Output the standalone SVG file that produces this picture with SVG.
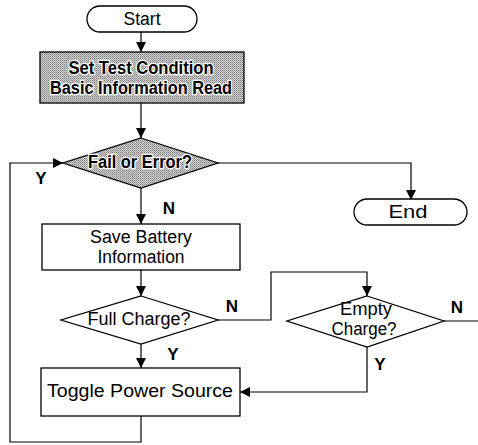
<svg xmlns="http://www.w3.org/2000/svg" width="478" height="445" viewBox="0 0 478 445">
<defs>
<marker id="ah" viewBox="0 0 10 10" refX="10" refY="5" markerWidth="10" markerHeight="10" markerUnits="userSpaceOnUse" orient="auto">
<path d="M0,0 L10,5 L0,10 Z" fill="#000"/>
</marker>
<pattern id="dith" width="2" height="2" patternUnits="userSpaceOnUse">
<rect width="2" height="2" fill="#d0d0d0"/>
<rect width="1" height="1" fill="#808080"/>
<rect x="1" y="1" width="1" height="1" fill="#a0a0a0"/>
</pattern>
</defs>
<style>
.sh{fill:#fff;stroke:#000;stroke-width:1.3}
.gr{fill:url(#dith);stroke:#000;stroke-width:1.3}
.t{font-family:"Liberation Sans",Arial,sans-serif;font-size:18px;fill:#000;text-anchor:middle}
.b{font-weight:bold;stroke:#fff;stroke-width:2.5;paint-order:stroke;stroke-linejoin:round}
.c{fill:none;stroke:#000;stroke-width:1.2}
.l{font-family:"Liberation Sans",Arial,sans-serif;font-size:17px;font-weight:bold;fill:#000;text-anchor:middle}
</style>
<rect width="478" height="445" fill="#fff"/>
<g id="connectors">
<path class="c" d="M141,32 V52" marker-end="url(#ah)"/>
<path class="c" d="M141,103 V138" marker-end="url(#ah)"/>
<path class="c" d="M141,188 V224" marker-end="url(#ah)"/>
<path class="c" d="M141,270 V296" marker-end="url(#ah)"/>
<path class="c" d="M141,344 V368" marker-end="url(#ah)"/>
<path class="c" d="M218,163 H411 V200" marker-end="url(#ah)"/>
<path class="c" d="M141,416 V442 H10 V163 H63" marker-end="url(#ah)"/>
<path class="c" d="M218,320 H271 V272 H367 V296" marker-end="url(#ah)"/>
<path class="c" d="M444,321 H478"/>
<path class="c" d="M367,347 V392 H240" marker-end="url(#ah)"/>
<text class="l" x="41" y="184">Y</text>
<text class="l" x="169" y="214">N</text>
<text class="l" x="232" y="312">N</text>
<text class="l" x="173" y="360">Y</text>
<text class="l" x="457" y="313">N</text>
<text class="l" x="380" y="370">Y</text>
</g>
<g id="start">
<rect class="sh" x="87" y="6" width="110" height="26" rx="13"/>
<text class="t" x="142" y="25" textLength="37" lengthAdjust="spacingAndGlyphs">Start</text>
</g>
<g id="set-test">
<rect class="gr" x="40" y="52" width="204" height="51"/>
<text class="t b" x="141" y="74" textLength="145" lengthAdjust="spacingAndGlyphs">Set Test Condition</text>
<text class="t b" x="141" y="94" textLength="182" lengthAdjust="spacingAndGlyphs">Basic Information Read</text>
</g>
<g id="fail-error">
<polygon class="gr" points="141,138 218,163 141,188 63,163"/>
<text class="t b" x="140" y="168" textLength="104" lengthAdjust="spacingAndGlyphs">Fail or Error?</text>
</g>
<g id="end">
<rect class="sh" x="354" y="199" width="113" height="26" rx="13"/>
<text class="t" x="408" y="218" textLength="39" lengthAdjust="spacingAndGlyphs">End</text>
</g>
<g id="save-battery">
<rect class="sh" x="42" y="224" width="198" height="46"/>
<text class="t" x="141" y="243" textLength="102" lengthAdjust="spacingAndGlyphs">Save Battery</text>
<text class="t" x="141" y="263" textLength="87" lengthAdjust="spacingAndGlyphs">Information</text>
</g>
<g id="full-charge">
<polygon class="sh" points="141,296 218,320 141,344 61,320"/>
<text class="t" x="139" y="325" textLength="103" lengthAdjust="spacingAndGlyphs">Full Charge?</text>
</g>
<g id="empty-charge">
<polygon class="sh" points="367,296 444,321 367,347 287,321"/>
<text class="t" x="366" y="315" textLength="52" lengthAdjust="spacingAndGlyphs">Empty</text>
<text class="t" x="364" y="335" textLength="65" lengthAdjust="spacingAndGlyphs">Charge?</text>
</g>
<g id="toggle">
<rect class="sh" x="41" y="368" width="199" height="48"/>
<text class="t" x="140" y="397" textLength="186" lengthAdjust="spacingAndGlyphs">Toggle Power Source</text>
</g>
</svg>
